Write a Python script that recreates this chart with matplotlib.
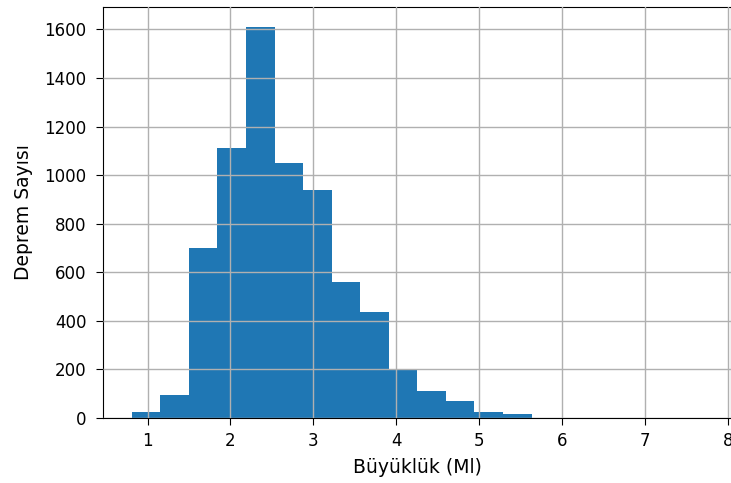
import numpy as np
import matplotlib.pyplot as plt

# Magnitude histogram: 20 equal bins between min and max magnitude
mag_min = 0.81
mag_max = 7.70
counts = [25, 95, 700, 1110, 1612, 1050, 940, 560, 435, 200,
          110, 72, 25, 15, 2, 1, 0, 1, 0, 1]
xlabel = 'Büyüklük (Ml)'
ylabel = 'Deprem Sayısı'

edges = np.linspace(mag_min, mag_max, len(counts) + 1)
centers = (edges[:-1] + edges[1:]) / 2

fig = plt.figure(figsize=(7.31, 4.83), dpi=100)
ax = fig.add_axes([103.2 / 731, 65 / 483, 628.3 / 731, 411 / 483])

ax.hist(centers, bins=edges, weights=counts, color='#1f77b4')
ax.grid(True, color='#b0b0b0', linewidth=1.0)
ax.set_axisbelow(False)

ax.set_xticks(range(1, 9))
ax.set_yticks(range(0, 1601, 200))
ax.tick_params(labelsize=12, length=5)
ax.tick_params(axis='y', pad=7)
ax.tick_params(axis='x', pad=5)
ax.set_xlabel(xlabel, fontsize=13.5, labelpad=6)
ax.set_ylabel(ylabel, fontsize=13.5, labelpad=8)

fig.savefig('out.png', dpi=100)
